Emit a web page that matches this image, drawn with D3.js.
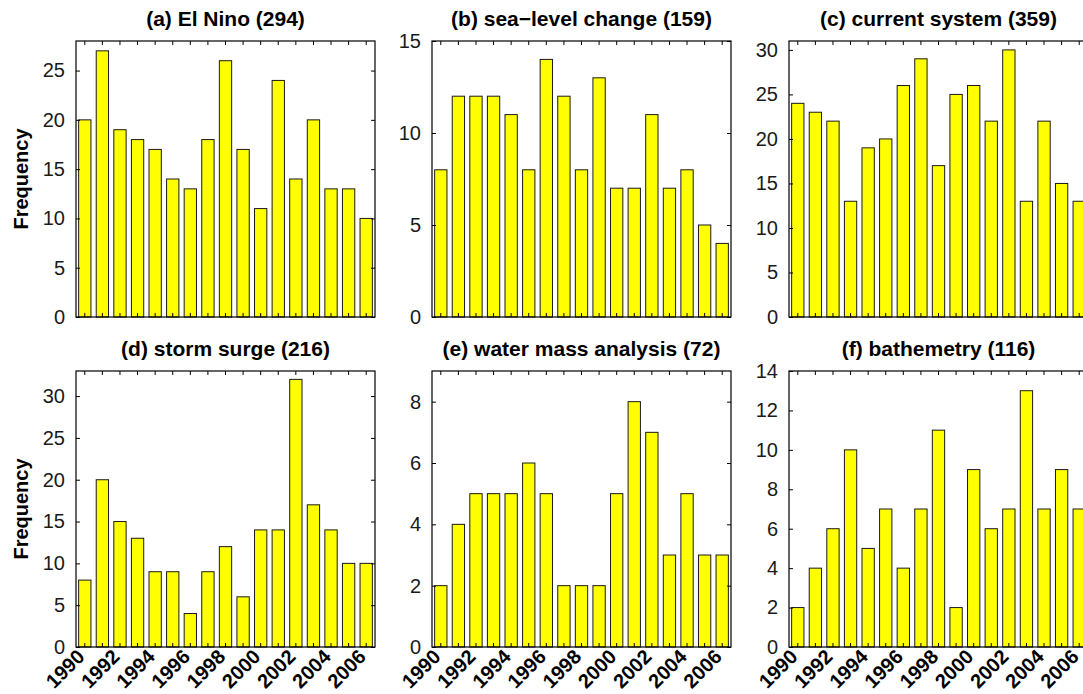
<!DOCTYPE html>
<html>
<head>
<meta charset="utf-8">
<script src="https://cdn.jsdelivr.net/npm/d3@7"></script>
<style>
  html, body { margin: 0; padding: 0; background: #fff; overflow: hidden; }
  svg { display: block; font-family: "Liberation Sans", Arial, sans-serif; }
</style>
</head>
<body>
<svg id="chart"></svg>
<script>
// 年份
var years = d3.range(1990, 2007);
var yearLabels = ["1990", "1992", "1994", "1996", "1998", "2000", "2002", "2004", "2006"];

// 各主题每年频数
var elNino      = [20, 27, 19, 18, 17, 14, 13, 18, 26, 17, 11, 24, 14, 20, 13, 13, 10];
var seaLevel    = [8, 12, 12, 12, 11, 8, 14, 12, 8, 13, 7, 7, 11, 7, 8, 5, 4];
var currentSys  = [24, 23, 22, 13, 19, 20, 26, 29, 17, 25, 26, 22, 30, 13, 22, 15, 13];
var stormSurge  = [8, 20, 15, 13, 9, 9, 4, 9, 12, 6, 14, 14, 32, 17, 14, 10, 10];
var waterMass   = [2, 4, 5, 5, 5, 6, 5, 2, 2, 2, 5, 8, 7, 3, 5, 3, 3];
var bathymetry  = [2, 4, 6, 10, 5, 7, 4, 7, 11, 2, 9, 6, 7, 13, 7, 9, 7];

var titles = ["(a) El Nino (294)", "(b) sea\u2212level change (159)", "(c) current system (359)",
              "(d) storm surge (216)", "(e) water mass analysis (72)", "(f) bathemetry (116)"];
var series = [elNino, seaLevel, currentSys, stormSurge, waterMass, bathymetry];
var yTickStep = [5, 5, 5, 5, 2, 2];

var W = 1083, H = 694;
var colLeft = [76, 432, 789];
var rowTop = [41, 371];
var pw = 299, ph = 276;

var svg = d3.select("#chart").attr("width", W).attr("height", H);

series.forEach(function (vals, i) {
    var col = i % 3, row = Math.floor(i / 3);
    var g = svg.append("g")
        .attr("transform", "translate(" + colLeft[col] + "," + rowTop[row] + ")");

    var x = d3.scaleBand()
        .domain(years)
        .range([0, pw])
        .paddingInner(0.3)
        .paddingOuter(0.15);

    var yMax = d3.max(vals) + 1;
    var y = d3.scaleLinear().domain([0, yMax]).range([ph, 0]);
    var yTicks = d3.range(0, yMax + 0.001, yTickStep[i]);

    // 柱子
    g.selectAll("rect.bar")
        .data(vals)
        .enter().append("rect")
        .attr("class", "bar")
        .attr("x", function (d, j) { return x(years[j]); })
        .attr("y", function (d) { return y(d); })
        .attr("width", x.bandwidth())
        .attr("height", function (d) { return ph - y(d); })
        .style("fill", "#ffff00")
        .style("stroke", "#1a1a1a")
        .style("stroke-width", 1);

    // 坐标轴（刻度朝内）
    var tickLen = 4;
    var axLeft = d3.axisLeft(y).tickValues(yTicks).tickSize(-tickLen).tickPadding(11);
    var axRight = d3.axisRight(y).tickValues(yTicks).tickSize(-tickLen).tickFormat("");
    var axBottom = d3.axisBottom(x).tickSize(-tickLen).tickFormat("");
    var axTop = d3.axisTop(x).tickSize(-tickLen).tickFormat("");

    var gl = g.append("g").call(axLeft);
    g.append("g").attr("transform", "translate(" + pw + ",0)").call(axRight);
    g.append("g").attr("transform", "translate(0," + ph + ")").call(axBottom);
    g.append("g").call(axTop);

    g.selectAll(".domain").remove();
    g.selectAll(".tick line").style("stroke", "#000").style("stroke-width", 1);
    gl.selectAll("text")
        .style("font-size", "20px")
        .style("fill", "#1a1a1a");

    // 边框
    g.append("rect")
        .attr("width", pw)
        .attr("height", ph)
        .style("fill", "none")
        .style("stroke", "#000")
        .style("stroke-width", 1.2);

    // 标题
    g.append("text")
        .attr("x", pw / 2)
        .attr("y", -15)
        .attr("text-anchor", "middle")
        .style("font-size", "21px")
        .style("font-weight", "bold")
        .text(titles[i]);

    // 纵轴标签
    if (col === 0) {
        g.append("text")
            .attr("transform", "translate(" + (28 - colLeft[0]) + "," + (ph / 2) + ") rotate(-90)")
            .attr("text-anchor", "middle")
            .style("font-size", "20px")
            .style("font-weight", "bold")
            .text("Frequency");
    }

    // 年份标签（仅下排）
    if (row === 1) {
        g.selectAll("text.year")
            .data(yearLabels)
            .enter().append("text")
            .attr("class", "year")
            .attr("text-anchor", "end")
            .attr("transform", function (d) {
                var cx = x(+d) + x.bandwidth() / 2 + 1;
                return "translate(" + cx + "," + (ph + 11) + ") rotate(-45)";
            })
            .style("font-size", "20px")
            .style("font-weight", "bold")
            .text(function (d) { return d; });
    }
});
</script>
</body>
</html>
